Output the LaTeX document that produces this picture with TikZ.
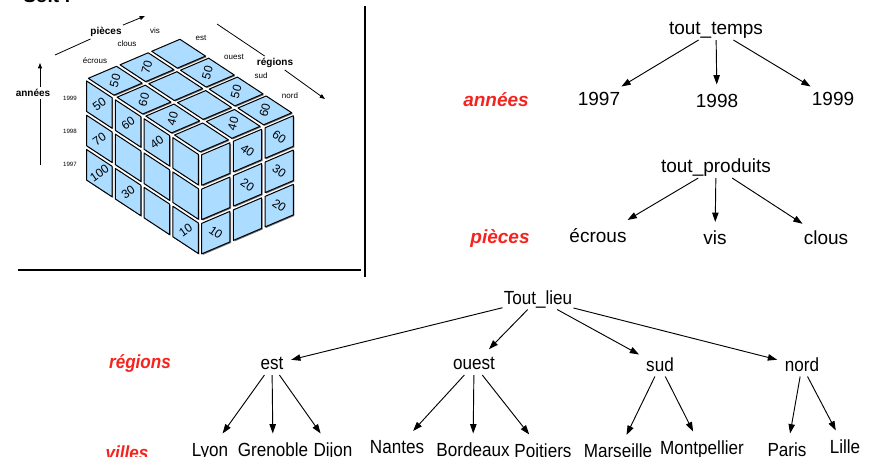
\documentclass[tikz,border=0pt]{standalone}
\usepackage{fontspec}
\setmainfont{Liberation Sans}
\newfontfamily\narrowfont{Liberation Sans}[FakeStretch=0.9]
\usetikzlibrary{arrows.meta}
\definecolor{cubeblue}{RGB}{172,220,255}
\definecolor{lblred}{RGB}{245,35,30}
\newcommand{\cgap}{0.055}
% #1 a, #2 b, #3 text, #4 rotation, #5 node name
\newcommand{\cubecell}[5]{%
  \fill[cellsh,shift={(0.8pt,-0.8pt)}] (#1+\cgap,#2+\cgap) -- (#1+1-\cgap,#2+\cgap) -- (#1+1-\cgap,#2+1-\cgap) -- (#1+\cgap,#2+1-\cgap) -- cycle;
  \filldraw[cellf] (#1+\cgap,#2+\cgap) -- (#1+1-\cgap,#2+\cgap) -- (#1+1-\cgap,#2+1-\cgap) -- (#1+\cgap,#2+1-\cgap) -- cycle;
  \node[cubenum,rotate=#4] (#5) at (#1+0.5,#2+0.5) {#3};
}
\begin{document}
\begin{tikzpicture}[x=0.75pt,y=-0.75pt,
  big/.style={font=\fontsize{14.25}{16}\selectfont, text height=10.7pt, text depth=3.2pt, inner sep=0.75pt, anchor=base},
  leafA/.style={big, inner xsep=0.75pt, inner ysep=6pt},
  redlbl/.style={font=\fontsize{14.25}{16}\selectfont\bfseries\itshape, text=lblred, inner sep=0.75pt, anchor=base},
  nar/.style={font=\narrowfont\fontsize{14.25}{16}\selectfont, text height=10.7pt, text depth=3.2pt, inner sep=0.75pt, anchor=base},
  leafB/.style={nar, inner xsep=0.75pt, inner ysep=6pt},
  redlblB/.style={font=\narrowfont\fontsize{14.25}{16}\selectfont\bfseries\itshape, text=lblred, inner sep=0.75pt, anchor=base},
  arr/.style={-{Triangle[length=7pt,width=4.8pt]}, line width=0.7pt},
  arrB/.style={arr, shorten >=5pt},
  cubenum/.style={font=\fontsize{9}{10}\selectfont, inner sep=0pt},
  cubelbl/.style={font=\fontsize{7.5}{8}\selectfont\bfseries, inner sep=1.5pt},
  cubesm/.style={font=\fontsize{6}{7}\selectfont, inner sep=0pt},
  cubeyr/.style={font=\fontsize{4.6}{5}\selectfont, inner sep=0pt},
  axarr/.style={-{Triangle[length=4pt,width=3pt]}, line width=0.6pt},
  axline/.style={line width=0.6pt},
  cellf/.style={fill=cubeblue, draw=black, line width=0.75pt, line join=round},
  cellsh/.style={fill=black!55},
  frame/.style={line width=0.8pt}
]
\useasboundingbox (0,0) rectangle (872,457);

% cut-off heading
\node[font=\fontsize{14.25}{16}\selectfont\bfseries, anchor=base west, inner sep=0pt] (soit) at (23,2.5) {Soit :};

% frame lines
\draw[frame] (365,6) -- (365,277);
\draw[frame] (18,270) -- (361,270);

% ===== cube =====
% top face: x = regions (down-right), y = pieces (up-right)
\begin{scope}[shift={(85,78)}, x={(21.5625pt,-14.175pt)}, y={(23.775pt,10.125pt)}]
  \cubecell{0}{0}{50}{75}{t00}
  \cubecell{0}{1}{70}{75}{t01}
  \cubecell{0}{2}{}{75}{t02}
  \cubecell{1}{0}{60}{75}{t10}
  \cubecell{1}{1}{}{75}{t11}
  \cubecell{1}{2}{50}{75}{t12}
  \cubecell{2}{0}{40}{75}{t20}
  \cubecell{2}{1}{}{75}{t21}
  \cubecell{2}{2}{50}{75}{t22}
  \cubecell{3}{0}{}{75}{t30}
  \cubecell{3}{1}{40}{75}{t31}
  \cubecell{3}{2}{60}{75}{t32}
\end{scope}
% left face: x = regions, y = height (down)
\begin{scope}[shift={(85,78)}, x={(21.5625pt,-14.175pt)}, y={(0pt,-25.725pt)}]
  \cubecell{0}{0}{50}{35}{l00}
  \cubecell{1}{0}{60}{35}{l10}
  \cubecell{2}{0}{40}{35}{l20}
  \cubecell{3}{0}{}{35}{l30}
  \cubecell{0}{1}{70}{35}{l01}
  \cubecell{1}{1}{}{35}{l11}
  \cubecell{2}{1}{}{35}{l21}
  \cubecell{3}{1}{}{35}{l31}
  \cubecell{0}{2}{100}{35}{l02}
  \cubecell{1}{2}{30}{35}{l12}
  \cubecell{2}{2}{}{35}{l22}
  \cubecell{3}{2}{10}{35}{l32}
\end{scope}
% right face: x = pieces (up-right), y = height (down)
\begin{scope}[shift={(200,153.6)}, x={(23.775pt,10.125pt)}, y={(0pt,-25.725pt)}]
  \cubecell{0}{0}{}{-35}{r00}
  \cubecell{1}{0}{40}{-35}{r10}
  \cubecell{2}{0}{60}{-35}{r20}
  \cubecell{0}{1}{}{-35}{r01}
  \cubecell{1}{1}{20}{-35}{r11}
  \cubecell{2}{1}{30}{-35}{r21}
  \cubecell{0}{2}{10}{-35}{r02}
  \cubecell{1}{2}{}{-35}{r12}
  \cubecell{2}{2}{20}{-35}{r22}
\end{scope}

% cube labels
\node[cubelbl] (lpieces) at (106,32) {pièces};
\node[cubelbl] (lregions) at (275,63) {régions};
\node[cubelbl] (lannees) at (33,93) {années};
\node[cubesm] (lvis) at (155,31) {vis};
\node[cubesm] (lclous) at (127,44) {clous};
\node[cubesm] (lecrous) at (95,61) {écrous};
\node[cubesm] (lest) at (201,38) {est};
\node[cubesm] (louest) at (234,57) {ouest};
\node[cubesm] (lsud) at (261,76) {sud};
\node[cubesm] (lnord) at (290,96) {nord};
\node[cubeyr] (l1999) at (70,98) {1999};
\node[cubeyr] (l1998) at (70,131) {1998};
\node[cubeyr] (l1997) at (70,164) {1997};

% cube axes
\coordinate (pa) at (55,55);
\coordinate (pb) at (145,16);
\draw[axline] (pa) -- (lpieces);
\draw[axarr] (lpieces) -- (pb);
\coordinate (ra) at (217,24);
\coordinate (rb) at (325,99);
\draw[axline] (ra) -- (lregions);
\draw[axarr] (lregions) -- (rb);
\coordinate (ya) at (40,165);
\coordinate (yb) at (40,63);
\draw[axline] (ya) -- (ya |- lannees.south);
\draw[axarr] (yb |- lannees.north) -- (yb);

% ===== tree 1 : temps =====
\node[big] (tt) at (716,34.5) {tout\_temps};
\node[leafA] (y97) at (599,105) {1997};
\node[leafA] (y98) at (717,107) {1998};
\node[leafA] (y99) at (833,105) {1999};
\node[redlbl] (rannees) at (496,106.5) {années};
\draw[arr] (tt) -- (y97);
\draw[arr] (tt) -- (y98);
\draw[arr] (tt) -- (y99);

% ===== tree 2 : produits =====
\node[big] (tp) at (716,172.5) {tout\_produits};
\node[leafA] (pecr) at (598,242.5) {écrous};
\node[leafA] (pvis) at (715,244.5) {vis};
\node[leafA] (pclo) at (826,244) {clous};
\node[redlbl] (rpieces) at (500,243.5) {pièces};
\draw[arr] (tp) -- (pecr);
\draw[arr] (tp) -- (pvis);
\draw[arr] (tp) -- (pclo);

% ===== tree 3 : lieux =====
\node[nar] (tl) at (538,304) {Tout\_lieu};
\node[nar] (est) at (272,369.5) {est};
\node[nar] (ouest) at (474,369.5) {ouest};
\node[nar] (sud) at (660,371) {sud};
\node[nar] (nord) at (802,371) {nord};
\node[redlblB] (rregions) at (140,368) {régions};
\node[redlblB] (rvilles) at (127,459) {villes};
\node[leafB] (lyon) at (210,456) {Lyon};
\node[leafB] (gren) at (273,456) {Grenoble};
\node[leafB] (dijon) at (333,456) {Dijon};
\node[leafB] (nantes) at (397,453.5) {Nantes};
\node[leafB] (bord) at (473,456) {Bordeaux};
\node[leafB] (poit) at (543,457) {Poitiers};
\node[leafB] (mars) at (618,457.5) {Marseille};
\node[leafB] (mont) at (702,454) {Montpellier};
\node[leafB] (paris) at (787,456) {Paris};
\node[leafB] (lille) at (845,453) {Lille};
\draw[arrB] (tl) -- (est);
\draw[arrB] (tl) -- (ouest);
\draw[arrB] (tl) -- (sud);
\draw[arrB] (tl) -- (nord);
\draw[arr] (est) -- (lyon);
\draw[arr] (est) -- (gren);
\draw[arr] (est) -- (dijon);
\draw[arr] (ouest) -- (nantes);
\draw[arr] (ouest) -- (bord);
\draw[arr] (ouest) -- (poit);
\draw[arr] (sud) -- (mars);
\draw[arr] (sud) -- (mont);
\draw[arr] (nord) -- (paris);
\draw[arr] (nord) -- (lille);
\end{tikzpicture}
\end{document}
